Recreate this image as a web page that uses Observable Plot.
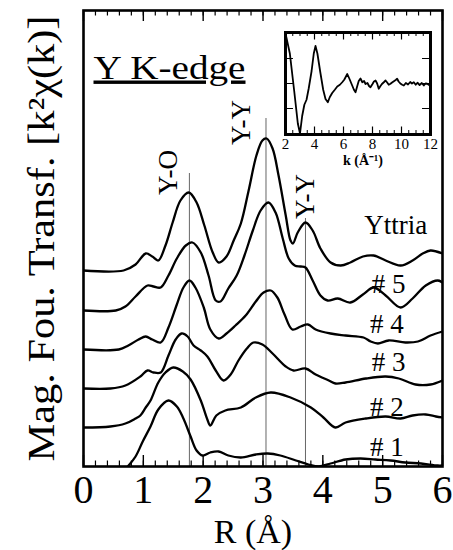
<!DOCTYPE html>
<html>
<head>
<meta charset="utf-8">
<script src="https://cdn.jsdelivr.net/npm/d3@7"></script>
<script src="https://cdn.jsdelivr.net/npm/@observablehq/plot@0.6"></script>
<style>
  html, body { margin: 0; padding: 0; background: #fff; }
  #chart { position: relative; width: 453px; height: 550px; }
  #inset { position: absolute; left: 280px; top: 28px; }
</style>
</head>
<body>
<div id="chart"><div id="inset"></div></div>
<script>
// Fourier-transform magnitudes, Y K-edge, vertically stacked (R in Å, magnitude in a.u.)
const samples = ["Yttria", "# 5", "# 4", "# 3", "# 2", "# 1"];
const offsets = [19.6, 15.6, 11.7, 7.8, 3.9, 0];

const rYttria   = [0, 0.67, 0.87, 1.04, 1.15, 1.25, 1.37, 1.49, 1.62, 1.76, 1.89, 2.02, 2.16, 2.26, 2.39, 2.51, 2.63, 2.76, 2.89, 2.99, 3.06, 3.16, 3.26, 3.38, 3.46, 3.50, 3.58, 3.71, 3.83, 3.96, 4.13, 4.30, 4.46, 4.67, 4.85, 5.05, 5.30, 5.50, 5.67, 5.80, 6.00];
const magYttria = [0, 0, 0.6, 1.7, 1.4, 1.0, 2.5, 4.8, 7.0, 7.8, 6.8, 4.5, 1.8, 0.8, 1.4, 3.0, 4.7, 8.0, 11.5, 13.0, 13.2, 12.2, 9.5, 5.5, 3.0, 2.7, 3.8, 4.8, 4.0, 2.2, 0.8, 0.5, 0.8, 1.4, 1.5, 1.0, 0.5, 1.0, 1.7, 2.0, 1.7];

const r5   = [0, 0.54, 0.70, 0.87, 1.07, 1.17, 1.29, 1.42, 1.56, 1.71, 1.82, 1.96, 2.09, 2.21, 2.29, 2.42, 2.56, 2.69, 2.83, 2.96, 3.09, 3.21, 3.33, 3.43, 3.53, 3.63, 3.71, 3.83, 3.96, 4.08, 4.25, 4.46, 4.67, 4.85, 5.05, 5.30, 5.50, 5.72, 5.92, 6.00];
const mag5 = [0, 0, 0.4, 1.4, 2.5, 2.4, 2.3, 3.5, 5.2, 6.5, 6.8, 5.8, 3.5, 1.0, 0.9, 2.2, 3.5, 5.5, 8.0, 10.0, 10.8, 9.8, 7.2, 5.2, 4.5, 4.4, 4.3, 3.0, 1.5, 1.0, 1.2, 0.8, 1.6, 2.3, 1.5, 0.3, 1.2, 2.5, 3.0, 2.8];

const r4   = [0, 0.59, 0.75, 0.92, 1.04, 1.15, 1.29, 1.42, 1.56, 1.67, 1.77, 1.87, 2.01, 2.12, 2.26, 2.39, 2.54, 2.71, 2.88, 3.01, 3.13, 3.24, 3.36, 3.49, 3.63, 3.75, 3.88, 4.13, 4.38, 4.68, 4.80, 4.92, 5.10, 5.38, 5.59, 5.80, 6.00];
const mag4 = [0, 0, 0.4, 1.0, 1.3, 1.0, 0.7, 2.2, 4.5, 6.2, 6.9, 6.2, 4.2, 2.0, 1.1, 1.6, 2.4, 3.4, 4.8, 5.7, 5.9, 5.2, 3.5, 2.0, 2.3, 2.5, 2.0, 1.6, 1.4, 1.2, 0.8, 0.6, 0.9, 0.7, 0.8, 1.4, 1.8];

const r3   = [0, 0.45, 0.70, 0.95, 1.07, 1.17, 1.29, 1.42, 1.54, 1.64, 1.74, 1.84, 1.96, 2.07, 2.21, 2.34, 2.46, 2.59, 2.73, 2.84, 2.99, 3.16, 3.38, 3.51, 3.71, 3.88, 4.10, 4.21, 4.38, 4.72, 5.05, 5.27, 5.55, 5.80, 6.00];
const mag3 = [0, 0, 0.3, 1.2, 1.8, 1.6, 1.6, 3.3, 4.9, 5.5, 5.2, 4.3, 3.8, 3.2, 1.8, 0.8, 1.4, 2.8, 4.0, 4.6, 4.4, 3.5, 2.2, 1.8, 2.0, 1.4, 0.8, 0.5, 0.6, 1.0, 1.2, 1.0, 0.4, 0.4, 0.8];

const r2   = [0, 0.45, 0.70, 0.87, 0.95, 1.04, 1.12, 1.25, 1.37, 1.50, 1.66, 1.79, 1.96, 2.07, 2.12, 2.22, 2.37, 2.63, 2.88, 3.13, 3.46, 3.80, 4.01, 4.21, 4.38, 4.72, 5.05, 5.30, 5.50, 5.72, 5.89, 6.00];
const mag2 = [0, 0.1, 0.4, 0.9, 1.2, 2.0, 2.7, 4.5, 5.5, 6.0, 5.6, 4.8, 2.7, 0.8, 0.2, 1.2, 1.7, 2.0, 3.0, 3.5, 3.0, 2.0, 1.0, 0.0, 0.5, 0.9, 1.1, 0.9, 1.2, 1.3, 1.1, 1.0];

const r1   = [0.62, 0.74, 0.87, 0.99, 1.12, 1.25, 1.42, 1.56, 1.67, 1.79, 1.89, 1.99, 2.12, 2.26, 2.42, 2.63, 2.88, 3.08, 3.29, 3.55, 3.76, 3.93, 4.13, 4.38, 4.63, 4.88, 5.13, 5.38, 5.64, 5.92, 6.00];
const mag1 = [-0.8, 0, 1.0, 2.5, 4.0, 5.7, 6.6, 6.0, 4.8, 3.0, 1.6, 1.1, 1.4, 1.5, 1.1, 0.9, 1.2, 1.3, 1.1, 0.6, 0.2, 0.0, 0.3, 0.7, 0.8, 0.7, 0.6, 0.4, 0.3, 0.1, 0.1];

// Peak assignments
const peakNames = ["Y-O", "Y-Y", "Y-Y"];
const peakR = [1.77, 3.05, 3.71];

// Raw EXAFS signal k²χ(k) shown in the inset
const insetK = [2.02, 2.3, 2.6, 2.85, 3.0, 3.15, 3.3, 3.45, 3.6, 3.8, 3.95, 4.07, 4.2, 4.4, 4.6, 4.76, 4.92, 5.05, 5.22, 5.4, 5.57, 5.75, 5.91, 6.05, 6.26, 6.4, 6.6, 6.72, 6.83, 6.95, 7.05, 7.17, 7.3, 7.42, 7.52, 7.65, 7.76, 7.86, 8.0, 8.1, 8.21, 8.32, 8.43, 8.55, 8.65, 8.78, 8.9, 9.0, 9.12, 9.24, 9.35, 9.5, 9.6, 9.7, 9.8, 9.92, 10.05, 10.16, 10.3, 10.45, 10.6, 10.72, 10.85, 10.98, 11.1, 11.25, 11.4, 11.54, 11.66, 11.77, 11.9, 12.0];
const insetChi = [1.95, 1.2, -0.3, -1.6, -2.0, -1.3, -0.85, -0.65, -0.2, 0.5, 1.2, 1.5, 1.2, 0.45, -0.25, -0.62, -0.75, -0.55, -0.38, -0.25, -0.12, -0.05, 0.05, 0.15, 0.38, 0.2, -0.08, -0.25, -0.35, -0.1, 0.1, 0.2, 0.05, 0.1, -0.02, 0.02, -0.1, -0.15, -0.02, 0.08, 0.12, 0.0, -0.21, -0.1, -0.02, 0.05, 0.12, 0.05, -0.05, -0.01, 0.04, 0.1, 0.14, 0.19, 0.08, 0.0, -0.05, -0.08, 0.02, -0.04, 0.06, 0.0, 0.05, -0.05, 0.03, -0.06, 0.02, -0.08, 0.0, -0.01, -0.06, -0.02];

const rTicksMajor = [0, 1, 2, 3, 4, 5, 6];
const kTicksMajor = [2, 4, 6, 8, 10, 12];

// ---- assemble long-format table for the stacked curves
const series = [[rYttria, magYttria], [r5, mag5], [r4, mag4], [r3, mag3], [r2, mag2], [r1, mag1]];
const rows = series.flatMap(([rs, ms], i) =>
  rs.map((r, j) => ({sample: samples[i], r, y: ms[j] + offsets[i]})));

const yTop = 45.6;
const rMinor = d3.range(0, 6.0001, 0.2).map(v => +v.toFixed(1));

// curve label placement (data space)
const labelRows = samples.map((s, i) => ({
  text: s,
  r: [5.22, 5.1, 5.07, 5.1, 5.07, 5.07][i],
  y: offsets[i] + [3.7, 1.8, 1.7, 1.8, 1.2, 1.1][i]
}));
const peakRows = peakNames.map((name, i) => ({
  name, r: peakR[i],
  top: [29.3, 34.8, 24.8][i],
  lr: [1.42, 2.63, 3.70][i],
  ly: [29.4, 34.4, 27.0][i]
}));

const serif = "'Liberation Serif', 'Times New Roman', serif";
const yTitle = "Mag. Fou. Transf. [k²χ(k)]";
const panelTitle = "Y K-edge";

const main = Plot.plot({
  width: 453,
  height: 550,
  marginLeft: 83,
  marginRight: 11,
  marginTop: 10,
  marginBottom: 84,
  x: {domain: [0, 6], label: null},
  y: {domain: [0, yTop], axis: null},
  style: {fontFamily: serif, background: "white", color: "black", overflow: "visible"},
  marks: [
    Plot.ruleX(peakRows, {x: "r", y1: 0, y2: "top", stroke: "#666", strokeWidth: 1}),
    Plot.line(rows, {x: "r", y: "y", z: "sample", curve: "catmull-rom", stroke: "black", strokeWidth: 2.3, clip: true}),
    // inward ticks on top and bottom edges
    Plot.ruleX(rMinor, {x: d => d, y1: 0, y2: 0.55, stroke: "black", strokeWidth: 1.2}),
    Plot.ruleX(rMinor, {x: d => d, y1: yTop - 0.55, y2: yTop, stroke: "black", strokeWidth: 1.2}),
    Plot.ruleX(rTicksMajor, {x: d => d, y1: 0, y2: 1.1, stroke: "black", strokeWidth: 1.4}),
    Plot.ruleX(rTicksMajor, {x: d => d, y1: yTop - 1.1, y2: yTop, stroke: "black", strokeWidth: 1.4}),
    Plot.frame({stroke: "black", strokeWidth: 2.6}),
    Plot.axisX(rTicksMajor, {tickSize: 0, tickPadding: 8, fontSize: 40, tickFormat: d => String(d)}),
    Plot.text(["R (Å)"], {frameAnchor: "bottom", textAnchor: "middle", dx: -10, dy: 66, fontSize: 34, lineAnchor: "middle"}),
    Plot.text([yTitle], {frameAnchor: "left", textAnchor: "middle", rotate: -90, dx: -42, fontSize: 38, lineAnchor: "middle"}),
    Plot.text([panelTitle], {frameAnchor: "top-left", dx: 10, dy: 68, textAnchor: "start", lineAnchor: "bottom", fontSize: 34}),
    Plot.text(labelRows, {x: "r", y: "y", text: "text", fontSize: 27, lineAnchor: "bottom"}),
    Plot.text(peakRows, {x: "lr", y: "ly", text: "name", rotate: -90, fontSize: 27, lineAnchor: "middle"})
  ]
});

// underline the panel title and fit the long titles to their spans
const texts = d3.select(main).selectAll("text");
texts.filter(function () { return this.textContent === panelTitle; })
  .style("text-decoration", "underline")
  .attr("textLength", 152)
  .attr("lengthAdjust", "spacingAndGlyphs");
texts.filter(function () { return this.textContent === yTitle; })
  .attr("textLength", 446)
  .attr("lengthAdjust", "spacingAndGlyphs");

const chart = document.getElementById("chart");
chart.insertBefore(main, chart.firstChild);

// ---- inset: k²χ(k) versus k
const insetRows = insetK.map((k, i) => ({k, chi: insetChi[i]}));
const kMinor = d3.range(2, 12.0001, 0.5).map(v => +v.toFixed(1));
const yIn = 2.04;
const chiTicks = [-1, 0, 1];

const inset = Plot.plot({
  width: 155,
  height: 145,
  marginLeft: 5,
  marginRight: 5,
  marginTop: 4,
  marginBottom: 39,
  x: {domain: [2, 12], label: null},
  y: {domain: [-yIn, yIn], axis: null},
  style: {fontFamily: serif, background: "transparent", color: "black", overflow: "visible"},
  marks: [
    Plot.line(insetRows, {x: "k", y: "chi", stroke: "black", strokeWidth: 1.8, clip: true}),
    Plot.ruleX(kMinor, {x: d => d, y1: -yIn, y2: -yIn + 0.16, stroke: "black", strokeWidth: 1}),
    Plot.ruleX(kMinor, {x: d => d, y1: yIn - 0.16, y2: yIn, stroke: "black", strokeWidth: 1}),
    Plot.ruleX(kTicksMajor, {x: d => d, y1: -yIn, y2: -yIn + 0.3, stroke: "black", strokeWidth: 1.2}),
    Plot.ruleX(kTicksMajor, {x: d => d, y1: yIn - 0.3, y2: yIn, stroke: "black", strokeWidth: 1.2}),
    Plot.ruleY(chiTicks, {y: d => d, x1: 2, x2: 2.55, stroke: "black", strokeWidth: 1}),
    Plot.ruleY(chiTicks, {y: d => d, x1: 11.45, x2: 12, stroke: "black", strokeWidth: 1}),
    Plot.frame({stroke: "black", strokeWidth: 3}),
    Plot.axisX(kTicksMajor, {tickSize: 0, tickPadding: 4, fontSize: 15, tickFormat: d => String(d)}),
    Plot.text(["k (Å⁻¹)"], {frameAnchor: "bottom", dx: 5, dy: 26, fontSize: 14, fontWeight: "bold", lineAnchor: "middle"})
  ]
});
document.getElementById("inset").appendChild(inset);
</script>
</body>
</html>
